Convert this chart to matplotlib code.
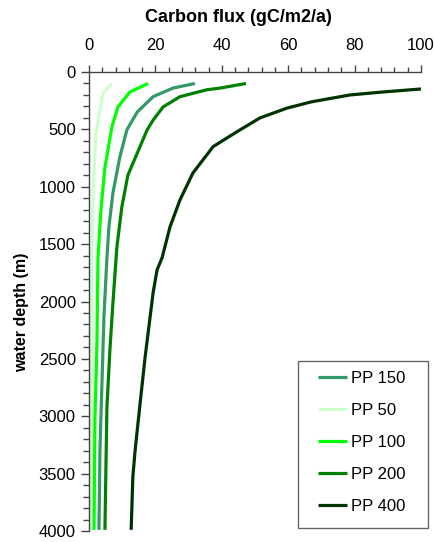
import matplotlib
matplotlib.use("Agg")
import matplotlib.pyplot as plt
from matplotlib.ticker import MultipleLocator
from matplotlib.patches import Rectangle

plt.rcParams['font.family'] = ['Liberation Sans', 'DejaVu Sans']

# Data (depth in m, flux in gC/m2/a)
depth_150 = [100, 140, 215, 350, 505, 740, 1055, 1350, 1620, 2135, 2710, 3294, 3990]
flux_150 = [31.9, 25.3, 19.3, 14.5, 11.4, 9.3, 7.2, 6.0, 5.4, 4.5, 3.9, 3.3, 3.0]

depth_50 = [100, 185, 330, 530, 1055, 1620, 2500, 3300, 3990]
flux_50 = [6.9, 4.2, 3.3, 2.1, 1.2, 0.9, 0.8, 0.7, 0.6]

depth_100 = [100, 175, 305, 480, 830, 1200, 1620, 2360, 3005, 3990]
flux_100 = [17.8, 12.3, 8.7, 6.9, 4.8, 3.6, 2.7, 2.4, 1.8, 1.5]

depth_200 = [100, 140, 155, 215, 305, 420, 505, 900, 1175, 1525, 2015, 2420, 2920, 3440, 3990]
flux_200 = [47.3, 39.5, 35.5, 27.4, 22.3, 19.3, 17.5, 11.7, 9.9, 8.4, 7.2, 6.3, 5.4, 5.1, 4.8]

depth_400 = [148, 174, 200, 260, 315, 400, 520, 650, 880, 1115, 1350, 1620, 1725, 1925, 2135, 2485, 2885, 3294, 3530, 3990]
flux_400 = [100, 88.6, 78.6, 67, 59.6, 51.5, 44.6, 37.4, 31.3, 27.4, 24.4, 22.0, 20.5, 19.3, 18.4, 16.9, 15.4, 13.9, 13.2, 12.7]

series = [
    ("PP 150", depth_150, flux_150, "#339966"),
    ("PP 50", depth_50, flux_50, "#CCFFCC"),
    ("PP 100", depth_100, flux_100, "#00FF00"),
    ("PP 200", depth_200, flux_200, "#008000"),
    ("PP 400", depth_400, flux_400, "#003300"),
]

W, H = 434, 542
fig = plt.figure(figsize=(W/100, H/100), dpi=100)
ax = fig.add_axes([89/W, 1-531/H, (421-89)/W, (531-72)/H])

for name, d, f, c in series:
    ax.plot(f, d, color=c, lw=2.3, label=name, solid_capstyle='butt')

ax.set_xlim(0, 100)
ax.set_ylim(4000, 0)
ax.xaxis.tick_top()
ax.xaxis.set_major_locator(MultipleLocator(20))
ax.xaxis.set_minor_locator(MultipleLocator(4))
ax.yaxis.set_major_locator(MultipleLocator(500))
ax.yaxis.set_minor_locator(MultipleLocator(100))
ax.tick_params(axis='both', which='major', direction='out', width=1, color='#444444', labelsize=12)
ax.tick_params(axis='both', which='minor', direction='out', width=1, color='#444444')
ax.tick_params(axis='x', which='major', length=5, pad=9)
ax.tick_params(axis='x', which='minor', length=3.3)
ax.tick_params(axis='y', which='major', length=6, pad=3.5)
ax.tick_params(axis='y', which='minor', length=4)
for s in ['right', 'bottom']:
    ax.spines[s].set_visible(False)
for s in ['left', 'top']:
    ax.spines[s].set_color('#444444')
    ax.spines[s].set_linewidth(1)

fig.text(238/W, 1-18/H, "Carbon flux (gC/m2/a)", fontsize=13, fontweight='bold',
         ha='center', va='center')
fig.text(22/W, 1-312/H, "water depth (m)", fontsize=11.5, fontweight='bold',
         ha='center', va='center', rotation=90)

# legend frame
fig.patches.append(Rectangle((298/W, 1-528/H), (428-298)/W, (528-361)/H,
                             transform=fig.transFigure, fill=False,
                             edgecolor='#666666', linewidth=1))
leg = ax.legend(loc='upper left', bbox_to_anchor=(318/W, 1-371/H), bbox_transform=fig.transFigure,
                fontsize=12, frameon=False,
                handlelength=1.75, labelspacing=1.02, borderpad=0, handletextpad=0.25,
                borderaxespad=0)

fig.savefig("out.png", dpi=100)
